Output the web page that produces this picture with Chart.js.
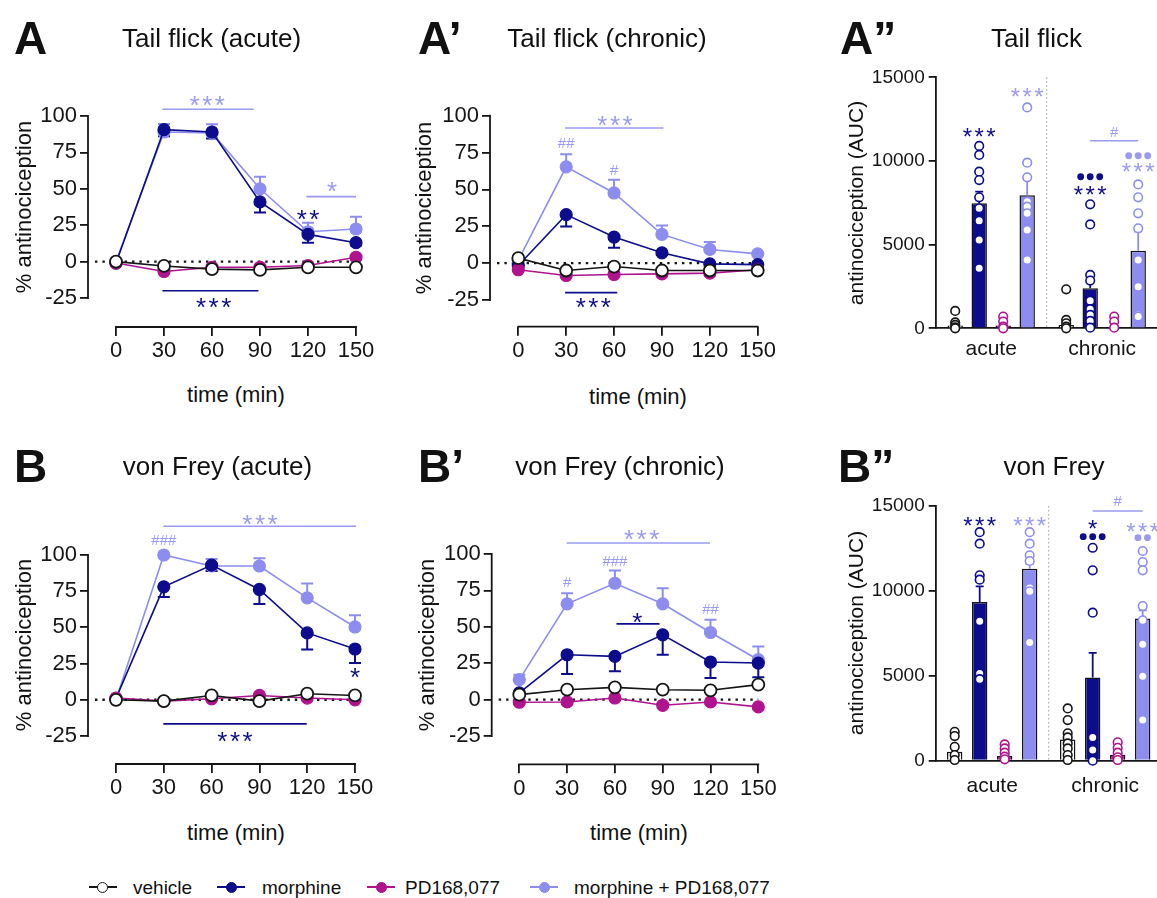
<!DOCTYPE html>
<html>
<head>
<meta charset="utf-8">
<script src="https://cdn.jsdelivr.net/npm/chart.js@4.4.1/dist/chart.umd.min.js"></script>
<style>
  html, body { margin: 0; padding: 0; background: #fff; }
  body { width: 1157px; height: 898px; position: relative; overflow: hidden;
         font-family: "Liberation Sans", Arial, sans-serif; color: #111; }
  canvas { position: absolute; }
  .t { position: absolute; white-space: nowrap; line-height: 1; }
</style>
</head>
<body>
<script>
// ---- data ----
const TIMES = [0, 30, 60, 90, 120, 150];
const Y_TICKS = [-25, 0, 25, 50, 75, 100];
const AUC_TICKS = [0, 5000, 10000, 15000];
const PHASES = ["acute", "chronic"];
const GROUPS = ["vehicle", "morphine", "PD168,077", "morphine + PD168,077"];

// A: tail flick (acute), % antinociception
const tfAcuteVehicle  = [0, -3, -5.2, -5.7, -3.9, -3.9];
const tfAcuteMorphine = [-1, 90.6, 89, 41, 18.7, 13];
const tfAcutePD       = [-1, -6.8, -3.9, -3.9, -2.7, 3];
const tfAcuteCombo    = [0, 89, 88.4, 50, 20.5, 22.4];
const tfAcuteMorphineSem = [0, 4.5, 4.5, 7.3, 5.7, 2];
const tfAcuteComboSem    = [0, 5.5, 6, 8.2, 6.2, 8.4];

// A': tail flick (chronic)
const tfChronicVehicle  = [3.4, -5, -2.3, -5, -5, -5];
const tfChronicMorphine = [-1.6, 32.9, 17.7, 7, -0.5, -1];
const tfChronicPD       = [-4.5, -8.4, -7.7, -7.3, -6.8, -4.5];
const tfChronicCombo    = [2, 65.3, 47.6, 19.5, 9.3, 6.3];
const tfChronicMorphineSem = [0, 8, 7.3, 1.5, 0, 0];
const tfChronicComboSem    = [0, 8.6, 9, 6.1, 5, 1];

// B: von Frey (acute)
const vfAcuteVehicle  = [0, -0.9, 3, -0.9, 4.2, 3];
const vfAcuteMorphine = [1, 78, 93, 76.2, 46.2, 35.1];
const vfAcutePD       = [1.2, -0.9, 0.7, 3, 1.2, 0];
const vfAcuteCombo    = [0, 100, 92.4, 92.4, 70.4, 50.3];
const vfAcuteMorphineSem = [0, 7, 4, 10, 11.5, 9.7];
const vfAcuteComboSem    = [0, 0, 4.8, 5.3, 9.9, 8.1];

// B': von Frey (chronic)
const vfChronicVehicle  = [3.4, 6.8, 8.4, 6.8, 6.4, 10.3];
const vfChronicMorphine = [4.6, 30.8, 29.7, 44.5, 25.8, 25.1];
const vfChronicPD       = [-1.8, -1.6, 1.1, -3.9, -1.6, -5];
const vfChronicCombo    = [13.7, 65.8, 79.9, 65.8, 46.1, 27.4];
const vfChronicMorphineSem = [0, 13.2, 10.3, 13.7, 11, 9.8];
const vfChronicComboSem    = [3.4, 7.3, 8.7, 10.7, 8.7, 9.1];

// A'': tail flick AUC (acute, chronic)
const tfAucVehicle  = [160, 200];
const tfAucMorphine = [7470, 2390];
const tfAucPD       = [160, 100];
const tfAucCombo    = [7950, 4640];
const tfAucVehicleSem  = [110, 150];
const tfAucMorphineSem = [700, 900];
const tfAucPDSem       = [80, 50];
const tfAucComboSem    = [1070, 1140];
const tfAucVehiclePts  = [[1040, 350, 200, 50, 0], [2330, 500, 300, 100, 0]];
const tfAucMorphinePts = [[10900, 10360, 9360, 8860, 7830, 7170, 6430, 5280, 3590],
                          [7410, 6210, 3190, 2850, 1650, 1140, 800, 440, 40]];
const tfAucPDPts       = [[700, 400, 100, 0], [700, 400, 40]];
const tfAucComboPts    = [[13200, 9900, 9020, 7570, 7270, 6870, 5880, 4080],
                          [8600, 7830, 6870, 5980, 4080, 2490, 800, 700]];

// B'': von Frey AUC (acute, chronic)
const vfAucVehicle  = [530, 1250];
const vfAucMorphine = [9350, 4900];
const vfAucPD       = [270, 330];
const vfAucCombo    = [11310, 8370];
const vfAucVehicleSem  = [250, 350];
const vfAucMorphineSem = [920, 1450];
const vfAucPDSem       = [120, 120];
const vfAucComboSem    = [290, 490];
const vfAucVehiclePts  = [[1700, 1450, 820, 330, 40], [3080, 2390, 1610, 1370, 1020, 725, 330, 40]];
const vfAucMorphinePts = [[13460, 12780, 10920, 10660, 8210, 5140, 4800],
                          [12540, 11210, 8720, 1370, 630, 0]];
const vfAucPDPts       = [[960, 725, 470, 235, 80], [1080, 760, 470, 200, 40]];
const vfAucComboPts    = [[13460, 12780, 12100, 11760, 10170, 9980, 6960],
                          [12350, 11700, 11210, 9110, 8270, 6860, 4980, 2390]];

// ---- styles ----
const FONT = '"Liberation Sans", Arial, sans-serif';
const INK = "#151515";
const NAVY = "#0c0c8c";
const MAGENTA = "#b0138e";
const LILAC = "#8d8df0";
const NOTE_LILAC = "#9a9af2";
const LINE_COLORS = [INK, NAVY, MAGENTA, LILAC];
const LINE_FILLS = ["#ffffff", NAVY, MAGENTA, LILAC];

// significance marks, in data units
const tfAcuteNotes = [
  { text: "***", x: 57, y: 110.5, color: NOTE_LILAC },
  { from: 29, to: 86, y: 104.6, color: NOTE_LILAC },
  { text: "*", x: 135, y: 51.4, color: NOTE_LILAC },
  { from: 119, to: 150, y: 44.6, color: NOTE_LILAC },
  { text: "**", x: 120, y: 32, color: NAVY },
  { from: 29, to: 89, y: -20, color: NAVY },
  { text: "***", x: 61, y: -28.2, color: NAVY },
];
const tfChronicNotes = [
  { text: "***", x: 60.6, y: 96.2, color: NOTE_LILAC },
  { from: 29.3, to: 90.9, y: 91.7, color: NOTE_LILAC },
  { text: "##", x: 30, y: 81, color: NOTE_LILAC },
  { text: "#", x: 60, y: 62.8, color: NOTE_LILAC },
  { from: 29.3, to: 62, y: -20, color: NAVY },
  { text: "***", x: 47, y: -27.1, color: NAVY },
];
const vfAcuteNotes = [
  { text: "###", x: 30, y: 110, color: NOTE_LILAC },
  { text: "***", x: 90.4, y: 124.3, color: NOTE_LILAC },
  { from: 29.7, to: 150.7, y: 119.9, color: NOTE_LILAC },
  { text: "*", x: 150, y: 18.4, color: NAVY },
  { from: 29.7, to: 119.7, y: -16.6, color: NAVY },
  { text: "***", x: 74.7, y: -25.8, color: NAVY },
];
const vfChronicNotes = [
  { text: "#", x: 30, y: 80.1, color: NOTE_LILAC },
  { text: "###", x: 60, y: 94.3, color: NOTE_LILAC },
  { text: "##", x: 120, y: 61.8, color: NOTE_LILAC },
  { text: "***", x: 76.8, y: 113.3, color: NOTE_LILAC },
  { from: 29.7, to: 119.7, y: 107.6, color: NOTE_LILAC },
  { text: "*", x: 74, y: 56.1, color: NAVY },
  { from: 61, to: 88, y: 52, color: NAVY },
];
const tfAucNotes = [
  { text: "***", g: 1, cat: 0, y: 11685, color: NAVY },
  { text: "***", g: 3, cat: 0, y: 14057, color: NOTE_LILAC },
  { dots: 3, g: 1, cat: 1, y: 9057, color: NAVY },
  { text: "***", g: 1, cat: 1, y: 8202, color: NAVY },
  { dots: 3, g: 3, cat: 1, y: 10311, color: NOTE_LILAC },
  { text: "***", g: 3, cat: 1, y: 9576, color: NOTE_LILAC },
  { text: "#", g: 2, cat: 1, y: 11685, color: NOTE_LILAC },
  { from: 1, to: 3, cat: 1, y: 11207, color: NOTE_LILAC },
];
const vfAucNotes = [
  { text: "***", g: 1, cat: 0, y: 14077, color: NAVY },
  { text: "***", g: 3, cat: 0, y: 14077, color: NOTE_LILAC },
  { text: "*", g: 1, cat: 1, y: 13883, color: NAVY },
  { dots: 3, g: 1, cat: 1, y: 13194, color: NAVY },
  { text: "***", g: 3, cat: 1, y: 13706, color: NOTE_LILAC },
  { dots: 2, g: 3, cat: 1, y: 13135, color: NOTE_LILAC },
  { text: "#", g: 2, cat: 1, y: 15255, color: NOTE_LILAC },
  { from: 1, to: 3, cat: 1, y: 14707, color: NOTE_LILAC },
];

// ---- helpers ----
function addText(text, x, y, size, opt = {}) {
  const el = document.createElement("div");
  el.className = "t";
  el.textContent = text;
  el.style.left = x + "px";
  el.style.top = y + "px";
  el.style.fontSize = size + "px";
  if (opt.bold) el.style.fontWeight = "bold";
  const ax = opt.left ? "0" : "-50%";
  el.style.transform = `translate(${ax}, -50%)` + (opt.rotate ? " rotate(-90deg)" : "");
  document.body.appendChild(el);
}

function place(box) {
  const c = document.createElement("canvas");
  c.width = box.w;
  c.height = box.h;
  c.style.left = box.left + "px";
  c.style.top = box.top + "px";
  c.style.width = box.w + "px";
  c.style.height = box.h + "px";
  document.body.appendChild(c);
  return c;
}

function drawMark(ctx, text, px, py, color, starSize) {
  const star = text.includes("*");
  const size = star ? starSize : 15;
  const spacing = star ? 2.5 : 0;
  ctx.font = `${size}px ${FONT}`;
  ctx.letterSpacing = spacing + "px";
  ctx.fillStyle = color;
  ctx.textAlign = "center";
  ctx.textBaseline = "middle";
  ctx.fillText(text, px + spacing / 2, py + (star ? 0.22 * size : 0));
  ctx.letterSpacing = "0px";
}

function drawDots(ctx, n, px, py, color) {
  ctx.fillStyle = color;
  for (let i = 0; i < n; i++) {
    ctx.beginPath();
    ctx.arc(px + (i - (n - 1) / 2) * 9.5, py, 3.4, 0, Math.PI * 2);
    ctx.fill();
  }
}

function lineSeries(values, i, sem, dir) {
  return {
    label: GROUPS[i],
    order: [0, 2, 1, 3][i],
    data: values.map((v, k) => ({ x: TIMES[k], y: v })),
    borderColor: LINE_COLORS[i],
    backgroundColor: LINE_FILLS[i],
    pointBackgroundColor: LINE_FILLS[i],
    pointBorderColor: LINE_COLORS[i],
    pointRadius: 6,
    pointBorderWidth: i === 0 ? 1.8 : 1.2,
    borderWidth: 1.6,
    tension: 0,
    clip: false,
    sem: sem,
    semDir: dir,
  };
}

function linePlugin(notes) {
  return {
    id: "linePanel",
    beforeDatasetsDraw(chart) {
      const { ctx, chartArea, scales: { x, y } } = chart;
      ctx.save();
      // dotted zero line
      const y0 = y.getPixelForValue(0);
      ctx.strokeStyle = INK;
      ctx.lineWidth = 2.4;
      ctx.setLineDash([2.4, 5]);
      ctx.beginPath();
      ctx.moveTo(chartArea.left + 7, y0);
      ctx.lineTo(x.getPixelForValue(150), y0);
      ctx.stroke();
      ctx.setLineDash([]);
      // error bars (one-sided)
      chart.data.datasets.forEach(ds => {
        if (!ds.sem) return;
        ctx.strokeStyle = ds.borderColor;
        ctx.lineWidth = 2;
        ds.sem.forEach((e, k) => {
          if (!e) return;
          const v = ds.data[k].y;
          const px = x.getPixelForValue(TIMES[k]);
          const p1 = y.getPixelForValue(v);
          const p2 = y.getPixelForValue(v + ds.semDir * e);
          ctx.beginPath();
          ctx.moveTo(px, p1); ctx.lineTo(px, p2);
          ctx.moveTo(px - 6, p2); ctx.lineTo(px + 6, p2);
          ctx.stroke();
        });
      });
      ctx.restore();
    },
    afterDatasetsDraw(chart) {
      const { ctx, chartArea, scales: { x, y } } = chart;
      ctx.save();
      // Prism-style offset axes
      ctx.strokeStyle = INK;
      ctx.lineWidth = 1.8;
      ctx.beginPath();
      ctx.moveTo(chartArea.left, y.getPixelForValue(100) - 0.9);
      ctx.lineTo(chartArea.left, y.getPixelForValue(-25) + 0.9);
      ctx.moveTo(x.getPixelForValue(0) - 0.9, chartArea.bottom);
      ctx.lineTo(x.getPixelForValue(150) + 0.9, chartArea.bottom);
      ctx.stroke();
      notes.forEach(n => {
        if (n.text) {
          drawMark(ctx, n.text, x.getPixelForValue(n.x), y.getPixelForValue(n.y), n.color, 26);
        } else {
          ctx.strokeStyle = n.color;
          ctx.lineWidth = 1.6;
          const py = y.getPixelForValue(n.y);
          ctx.beginPath();
          ctx.moveTo(x.getPixelForValue(n.from), py);
          ctx.lineTo(x.getPixelForValue(n.to), py);
          ctx.stroke();
        }
      });
      ctx.restore();
    },
  };
}

function lineChart(box, series, notes) {
  const pxPerMin = (box.x150 - box.x0) / 150;
  const pxPerUnit = (box.yM25 - box.y100) / 125;
  const gap = box.x0 - box.axisX;
  const right = box.x150 + gap;
  const tickFont = { family: FONT, size: 22 };
  return new Chart(place(box), {
    type: "line",
    data: { datasets: series },
    options: {
      responsive: false, animation: false, devicePixelRatio: 1, events: [],
      layout: { padding: { left: 0, top: box.y100 - box.top, right: box.left + box.w - right, bottom: 0 } },
      plugins: { legend: { display: false }, tooltip: { enabled: false } },
      scales: {
        x: {
          type: "linear", min: -gap / pxPerMin, max: 150 + gap / pxPerMin,
          afterFit: s => { s.height = box.top + box.h - box.xAxisY; },
          afterBuildTicks: s => { s.ticks = TIMES.map(v => ({ value: v })); },
          border: { display: false },
          grid: { drawOnChartArea: false, tickLength: 9, color: INK, lineWidth: 1.8 },
          ticks: { font: tickFont, color: INK, padding: 2, maxRotation: 0, autoSkip: false, callback: v => String(v) },
        },
        y: {
          min: 100 - (box.xAxisY - box.y100) / pxPerUnit, max: 100,
          afterFit: s => { s.width = box.axisX - box.left; },
          afterBuildTicks: s => { s.ticks = Y_TICKS.map(v => ({ value: v })); },
          border: { display: false },
          grid: { drawOnChartArea: false, tickLength: 8, color: INK, lineWidth: 1.8 },
          ticks: { font: tickFont, color: INK, padding: 3, autoSkip: false, callback: v => String(v) },
        },
      },
    },
    plugins: [linePlugin(notes)],
  });
}

function barPlugin(notes) {
  return {
    id: "barPanel",
    beforeDatasetsDraw(chart) {
      const { ctx, chartArea, scales: { x } } = chart;
      ctx.save();
      ctx.strokeStyle = "#9a9a9a";
      ctx.lineWidth = 1;
      ctx.setLineDash([1.5, 2.5]);
      const mx = x.getPixelForValue(0.5);
      ctx.beginPath();
      ctx.moveTo(mx, chartArea.top);
      ctx.lineTo(mx, chartArea.bottom);
      ctx.stroke();
      ctx.restore();
    },
    afterDatasetsDraw(chart) {
      const { ctx, scales: { y } } = chart;
      ctx.save();
      chart.data.datasets.forEach((ds, g) => {
        const meta = chart.getDatasetMeta(g);
        meta.data.forEach((bar, j) => {
          // SEM, upward only
          const top = y.getPixelForValue(ds.data[j] + ds.sem[j]);
          ctx.strokeStyle = ds.markColor;
          ctx.lineWidth = 1.8;
          ctx.beginPath();
          ctx.moveTo(bar.x, bar.y); ctx.lineTo(bar.x, top);
          ctx.moveTo(bar.x - 4, top); ctx.lineTo(bar.x + 4, top);
          ctx.stroke();
          // individual animals
          ds.points[j].forEach(v => {
            ctx.beginPath();
            ctx.arc(bar.x, y.getPixelForValue(v), 4.3, 0, Math.PI * 2);
            ctx.fillStyle = "#fff";
            ctx.fill();
            ctx.lineWidth = 1.6;
            ctx.stroke();
          });
        });
      });
      notes.forEach(n => {
        const py = y.getPixelForValue(n.y);
        if (n.from !== undefined) {
          const a = chart.getDatasetMeta(n.from).data[n.cat].x;
          const b = chart.getDatasetMeta(n.to).data[n.cat].x;
          ctx.strokeStyle = n.color;
          ctx.lineWidth = 1.4;
          ctx.beginPath();
          ctx.moveTo(a, py); ctx.lineTo(b, py);
          ctx.stroke();
          return;
        }
        const px = chart.getDatasetMeta(n.g).data[n.cat].x;
        if (n.dots) drawDots(ctx, n.dots, px, py, n.color);
        else drawMark(ctx, n.text, px, py, n.color, 24);
      });
      ctx.restore();
    },
  };
}

function barChart(box, means, sems, points, notes) {
  const right = box.axisX + 2 * box.catWidth;
  box.w = Math.ceil(right - box.left) + 2;
  const fills = ["#ffffff", NAVY, MAGENTA, LILAC];
  const datasets = means.map((m, g) => ({
    label: GROUPS[g],
    data: m,
    sem: sems[g],
    points: points[g],
    markColor: LINE_COLORS[g],
    backgroundColor: fills[g],
    borderColor: INK,
    borderWidth: 1.5,
    categoryPercentage: 4 * box.slot / box.catWidth,
    barPercentage: 15.4 / box.slot,
  }));
  return new Chart(place(box), {
    type: "bar",
    data: { labels: PHASES, datasets },
    options: {
      responsive: false, animation: false, devicePixelRatio: 1, events: [],
      layout: { padding: { left: 0, top: box.yTop - box.top, right: box.left + box.w - right, bottom: 0 } },
      plugins: { legend: { display: false }, tooltip: { enabled: false } },
      scales: {
        x: {
          offset: true,
          afterFit: s => { s.height = box.top + box.h - box.y0; },
          grid: { display: false, drawTicks: false },
          border: { display: true, color: INK, width: 1.8 },
          ticks: { font: { family: FONT, size: 21 }, color: INK, padding: box.labelPad },
        },
        y: {
          min: 0, max: 15000,
          afterFit: s => { s.width = box.axisX - box.left; },
          afterBuildTicks: s => { s.ticks = AUC_TICKS.map(v => ({ value: v })); },
          grid: { drawOnChartArea: false, tickLength: 7, color: INK, lineWidth: 1.8 },
          border: { display: true, color: INK, width: 1.8 },
          ticks: { font: { family: FONT, size: 19 }, color: INK, padding: 4, autoSkip: false, callback: v => String(v) },
        },
      },
    },
    plugins: [barPlugin(notes)],
  });
}

// ---- panels ----
lineChart({ left: 0, top: 60, w: 400, h: 320, axisX: 88, x0: 116, x150: 356, y100: 116, yM25: 298, xAxisY: 327 }, [
  lineSeries(tfAcuteVehicle, 0),
  lineSeries(tfAcuteMorphine, 1, tfAcuteMorphineSem, -1),
  lineSeries(tfAcutePD, 2),
  lineSeries(tfAcuteCombo, 3, tfAcuteComboSem, 1),
], tfAcuteNotes);

lineChart({ left: 400, top: 60, w: 400, h: 320, axisX: 490, x0: 518.3, x150: 757.7, y100: 115.7, yM25: 300, xAxisY: 326.7 }, [
  lineSeries(tfChronicVehicle, 0),
  lineSeries(tfChronicMorphine, 1, tfChronicMorphineSem, -1),
  lineSeries(tfChronicPD, 2),
  lineSeries(tfChronicCombo, 3, tfChronicComboSem, 1),
], tfChronicNotes);

lineChart({ left: 0, top: 480, w: 400, h: 320, axisX: 88, x0: 116, x150: 355, y100: 555, yM25: 736, xAxisY: 764 }, [
  lineSeries(vfAcuteVehicle, 0),
  lineSeries(vfAcuteMorphine, 1, vfAcuteMorphineSem, -1),
  lineSeries(vfAcutePD, 2),
  lineSeries(vfAcuteCombo, 3, vfAcuteComboSem, 1),
], vfAcuteNotes);

lineChart({ left: 400, top: 480, w: 400, h: 320, axisX: 491.7, x0: 519.3, x150: 758.3, y100: 554, yM25: 736, xAxisY: 764.3 }, [
  lineSeries(vfChronicVehicle, 0),
  lineSeries(vfChronicMorphine, 1, vfChronicMorphineSem, -1),
  lineSeries(vfChronicPD, 2),
  lineSeries(vfChronicCombo, 3, vfChronicComboSem, 1),
], vfChronicNotes);

barChart({ left: 820, top: 60, h: 310, axisX: 935.7, yTop: 77.3, y0: 328.3, catWidth: 111, slot: 24, labelPad: 8 },
  [tfAucVehicle, tfAucMorphine, tfAucPD, tfAucCombo],
  [tfAucVehicleSem, tfAucMorphineSem, tfAucPDSem, tfAucComboSem],
  [tfAucVehiclePts, tfAucMorphinePts, tfAucPDPts, tfAucComboPts],
  tfAucNotes);

barChart({ left: 820, top: 480, h: 320, axisX: 935.7, yTop: 506, y0: 760.7, catWidth: 113, slot: 25, labelPad: 13 },
  [vfAucVehicle, vfAucMorphine, vfAucPD, vfAucCombo],
  [vfAucVehicleSem, vfAucMorphineSem, vfAucPDSem, vfAucComboSem],
  [vfAucVehiclePts, vfAucMorphinePts, vfAucPDPts, vfAucComboPts],
  vfAucNotes);

// ---- text ----
addText("A", 14, 38, 46, { bold: true, left: true });
addText("A\u2019", 418, 38, 46, { bold: true, left: true });
addText("A\u201D", 840, 38, 46, { bold: true, left: true });
addText("B", 14, 466, 46, { bold: true, left: true });
addText("B\u2019", 418, 466, 46, { bold: true, left: true });
addText("B\u201D", 838, 466, 46, { bold: true, left: true });

addText("Tail flick (acute)", 211.5, 38, 26);
addText("Tail flick (chronic)", 607, 38, 26);
addText("Tail flick", 1036.5, 38, 26);
addText("von Frey (acute)", 217.5, 466, 26);
addText("von Frey (chronic)", 620, 466, 26);
addText("von Frey", 1054, 466, 26);

addText("% antinociception", 24, 207, 22, { rotate: true });
addText("% antinociception", 424, 208, 22, { rotate: true });
addText("% antinociception", 23.5, 645, 22, { rotate: true });
addText("% antinociception", 426.7, 645, 22, { rotate: true });
addText("antinociception (AUC)", 855, 203, 21, { rotate: true });
addText("antinociception (AUC)", 855, 633, 21, { rotate: true });

addText("time (min)", 236, 395, 22);
addText("time (min)", 638, 397, 22);
addText("time (min)", 236, 833, 22);
addText("time (min)", 639, 833, 22);

// ---- legend ----
const legendMarkers = [102.5, 231, 381, 544];
const legendTexts = [133, 262, 405, 574];
GROUPS.forEach((g, i) => {
  const cy = 887;
  const line = document.createElement("div");
  line.style.cssText = `position:absolute;left:${legendMarkers[i] - 14}px;top:${cy - 0.8}px;width:28px;height:1.6px;background:${LINE_COLORS[i]};`;
  document.body.appendChild(line);
  const dot = document.createElement("div");
  dot.style.cssText = `position:absolute;left:${legendMarkers[i] - 5.5}px;top:${cy - 5.5}px;width:11px;height:11px;box-sizing:border-box;border-radius:50%;border:1.6px solid ${LINE_COLORS[i]};background:${LINE_FILLS[i]};`;
  document.body.appendChild(dot);
  addText(g, legendTexts[i], cy, 19, { left: true });
});
</script>
</body>
</html>
